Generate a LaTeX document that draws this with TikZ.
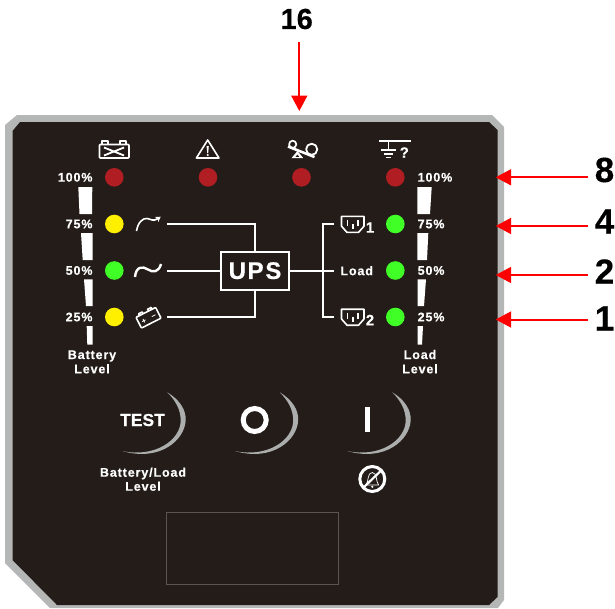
\documentclass[tikz,border=0pt]{standalone}
\usepackage{fontspec}
\usepackage{tikz}
\usetikzlibrary{arrows.meta}
\newfontfamily\panelfont[LetterSpace=7,BoldFeatures={FakeBold=0.4}]{Liberation Sans}
\newfontfamily\plainfont[BoldFeatures={FakeBold=0.3}]{Liberation Sans}
\definecolor{panel}{HTML}{231C18}
\definecolor{rim}{HTML}{B5B7B6}
\definecolor{ledred}{HTML}{B01E23}
\definecolor{ledyellow}{HTML}{FFF000}
\definecolor{ledgreen}{HTML}{40FF26}
\definecolor{pointer}{HTML}{FF0000}
\begin{document}
\begin{tikzpicture}
		[x=1pt, y=-1pt,
		led/.style={circle, fill=#1, minimum size=18.6pt, inner sep=0pt},
		level text/.style={text=white, inner sep=0pt, font=\panelfont\bfseries\fontsize{12.5}{14}\selectfont},
		big text/.style={text=black, inner sep=0pt, font=\plainfont\bfseries\fontsize{35}{38}\selectfont},
		wire/.style={draw=white, line width=1.7pt},
		icon/.style={draw=white, line width=1.6pt, line join=round},
		pointer arrow/.style={draw=pointer, line width=2pt, -{Triangle[length=15.5pt,width=16pt]}},
		crescent/.style={fill=rim!95!black}]

		\useasboundingbox (0,0) rectangle (615,608);

		% housing
		\fill[rim] (5,125) -- (17,115) -- (492,115) -- (504,127) -- (504,600) -- (498,608) -- (50,608) -- (5,563) -- cycle;
		\fill[panel] (12.5,131) -- (20,122) -- (489,122) -- (497.5,130) -- (497.5,597) -- (489,605) -- (57,605) -- (12.5,560) -- cycle;
		\draw[draw=panel!75!white, line width=0.7pt] (166.7,512.7) rectangle (338,584);

		% LEDs
		\foreach \n/\x/\y/\c in {a/114.3/177.3/ledred, b/208/177.3/ledred, c/301.5/177.3/ledred, d/395.3/177.3/ledred,
			e/114.3/224/ledyellow, f/114.3/270.5/ledgreen, g/114.3/317/ledyellow,
			h/395.3/224/ledgreen, i/395.3/270.5/ledgreen, j/395.3/317/ledgreen}
			{\node[led=\c] (led\n) at (\x,\y) {};}

		% level bars
		\fill[white] (78.3,187) -- (92.3,187) -- (92,214) -- (79.5,214) -- cycle;
		\fill[white] (81,233) -- (92.5,233) -- (92.5,260) -- (82.7,260) -- cycle;
		\fill[white] (84,279.3) -- (92.7,279.3) -- (92.7,306) -- (86,306) -- cycle;
		\fill[white] (86.7,326) -- (92.7,326) -- (92.7,344.7) -- (87.3,344.7) -- cycle;
		\fill[white] (417.3,187) -- (431.7,187) -- (430,214) -- (417.3,214) -- cycle;
		\fill[white] (417.3,233) -- (428.3,233) -- (427,260) -- (417.3,260) -- cycle;
		\fill[white] (417.7,279.3) -- (426,279.3) -- (424,306) -- (417.7,306) -- cycle;
		\fill[white] (417.7,326) -- (423,326) -- (422,344.7) -- (417.7,344.7) -- cycle;

		\foreach \n/\t/\y in {a/100/177.3, b/75/224, c/50/270.5, d/25/317}
			{\node[level text, anchor=east] (left\n) at (92.7,\y) {\t\%};
			\node[level text, anchor=west] (right\n) at (417.5,\y) {\t\%};}

		\node[level text, anchor=base] (battery) at (92,359) {Battery};
		\node[level text, anchor=base] (batterylevel) at (92,373.3) {Level};
		\node[level text, anchor=base] (load) at (420,359) {Load};
		\node[level text, anchor=base] (loadlevel) at (420,373.3) {Level};
		\node[level text, anchor=base] (both) at (143,476.7) {Battery/Load};
		\node[level text, anchor=base] (bothlevel) at (143,490.7) {Level};

		% UPS block
		\node[draw=white, line width=1.8pt, minimum width=67.4pt, minimum height=38pt, inner sep=0pt,
			text=white, font=\panelfont\bfseries\fontsize{24}{26}\selectfont] (ups) at (255,270.7) {UPS};
		\coordinate (inbypass) at (167.3,224);
		\coordinate (inmains) at (167.3,270.7);
		\coordinate (inbattery) at (167.3,317);
		\coordinate (outload) at (334,270.7);
		\coordinate (outa) at (334,224);
		\coordinate (outb) at (334,317);
		\draw[wire] (inbypass) -| (ups.north);
		\draw[wire] (inmains) -- (ups.west);
		\draw[wire] (inbattery) -| (ups.south);
		\draw[wire] (ups.east) -- (outload);
		\draw[wire] (outa) -- (322.7,224) -- (322.7,317) -- (outb);
		\node[level text] (loadtext) at (356.7,270.7) {Load};

		% top row icons
		\draw[icon, rounded corners=0.8pt] (99.5,144.5) rectangle (129,158);
		\draw[icon] (102,144.5) -- (102,141.2) -- (108,141.2) -- (108,144.5);
		\draw[icon] (120,144.5) -- (120,141.2) -- (126,141.2) -- (126,144.5);
		\draw[icon, line width=1.8pt] (104,147.5) -- (124,155.5) (104,155.5) -- (124,147.5);

		\draw[icon] (207.7,140) -- (219,158) -- (196.4,158) -- cycle;
		\fill[white] (206.6,146) -- (208.8,146) -- (208.2,153) -- (207.2,153) -- cycle;
		\fill[white] (207.7,155) circle (1.1);

		\draw[icon, line width=1.7pt] (292.7,144.3) circle (3.6);
		\draw[icon, line width=1.8pt] (311.7,149.3) circle (5.6);
		\draw[icon, line width=2.6pt] (288,146.5) -- (314.5,157);
		\fill[white] (297.4,151) -- (303.2,158) -- (291.6,158) -- cycle;
		\fill[panel] (297.4,154.6) -- (299.2,156.8) -- (295.6,156.8) -- cycle;

		\draw[icon, line width=2.2pt] (379.3,141) -- (410.7,141);
		\draw[icon] (388.3,141) -- (388.3,150);
		\draw[icon] (381,150) -- (395.7,150) (384,153.7) -- (393,153.7) (386,157.5) -- (391,157.5);
		\node[text=white, inner sep=0pt, font=\plainfont\bfseries\fontsize{15}{17}\selectfont] (query) at (404.3,152.5) {?};

		% input icons
		\draw[icon, -{Stealth[length=5pt,width=6pt]}] (136.5,231) .. controls (138,222) and (143,218) .. (147,218.5) .. controls (151,219) and (153,222) .. (160.7,216.7);
		\draw[icon, line width=2.4pt] (135,277) .. controls (136,266) and (143,266) .. (148,269.5) .. controls (153,273) and (159,272) .. (161,264);
		\begin{scope}[shift={(148.3,317.3)}, rotate=27]
			\draw[icon, rounded corners=0.8pt] (-11,-5.5) rectangle (11,6.5);
			\draw[icon] (-7,-5.5) -- (-7,-7.5) -- (-3,-7.5) -- (-3,-5.5);
			\draw[icon] (3,-5.5) -- (3,-7.5) -- (7,-7.5) -- (7,-5.5);
			\draw[white, line width=0.8pt] (-7.5,1) -- (-3.5,1) (-5.5,-1) -- (-5.5,3) (3.5,1) -- (7.5,1);
		\end{scope}

		% outlets
		\foreach \n/\y in {a/215.7, b/308.5}
			{\begin{scope}[yshift=-\y]
				\draw[icon] (341.5,0.7) -- (364,0.7) -- (364,10.5) -- (358.5,16.7) -- (347,16.7) -- (341.5,10.5) -- cycle;
				\draw[icon] (347.5,4) -- (347.5,10) (358,4) -- (358,10) (352.8,8.5) -- (352.8,13);
			\end{scope}}
		\node[text=white, inner sep=0pt, font=\plainfont\bfseries\fontsize{15}{17}\selectfont] (outlet1) at (370,227.5) {1};
		\node[text=white, inner sep=0pt, font=\plainfont\bfseries\fontsize{15}{17}\selectfont] (outlet2) at (370,320) {2};

		% buttons
		\foreach \n in {0,1,2}
			{\begin{scope}[xshift=\n*112.5]
				\fill[crescent] (167.3,392.3) .. controls (180,400) and (186,410) .. (185.7,420) .. controls (185,440) and (160,462) .. (122.3,451)
					.. controls (155,458) and (181,440) .. (180.7,420) .. controls (180.5,410) and (176,401) .. (167.3,392.3);
			\end{scope}
			}
		\node[text=white, inner sep=0pt, font=\plainfont\bfseries\fontsize{17.5}{19}\selectfont] (test) at (142.5,420) {TEST};
		\draw[white, line width=5pt] (254.7,420) circle (11.5);
		\fill[white] (365,407.3) rectangle (370,432);

		% muted bell
		\draw[white, line width=3pt] (372.3,479) circle (12.5);
		\draw[white, line width=0.7pt, line join=round] (366,485) .. controls (369,481) and (367,473) .. (372.3,472.5)
			.. controls (377.5,473) and (375.5,481) .. (378.6,485) -- cycle;
		\fill[white] (372.3,486.8) circle (1.2);
		\draw[white, line width=2.2pt] (363,488) -- (381.7,470);

		% numbered pointers
		\node[big text, font=\plainfont\bfseries\fontsize{29}{31}\selectfont] (sixteen) at (296.7,19) {16};
		\node[big text] (eight) at (604.5,170) {8};
		\node[big text] (four) at (604.5,221.5) {4};
		\node[big text] (two) at (604.5,271.5) {2};
		\node[big text] (one) at (604.5,318.5) {1};
		\coordinate (topstart) at (299.3,42);
		\coordinate (toptip) at (299.3,111);
		\draw[pointer arrow] (topstart) -- (toptip);
		\foreach \n/\y in {a/177.3, b/226, c/275, d/319.5}
			{\coordinate (start\n) at (588,\y);
			\coordinate (tip\n) at (495.7,\y);
			\draw[pointer arrow] (start\n) -- (tip\n);}
\end{tikzpicture}
\end{document}
